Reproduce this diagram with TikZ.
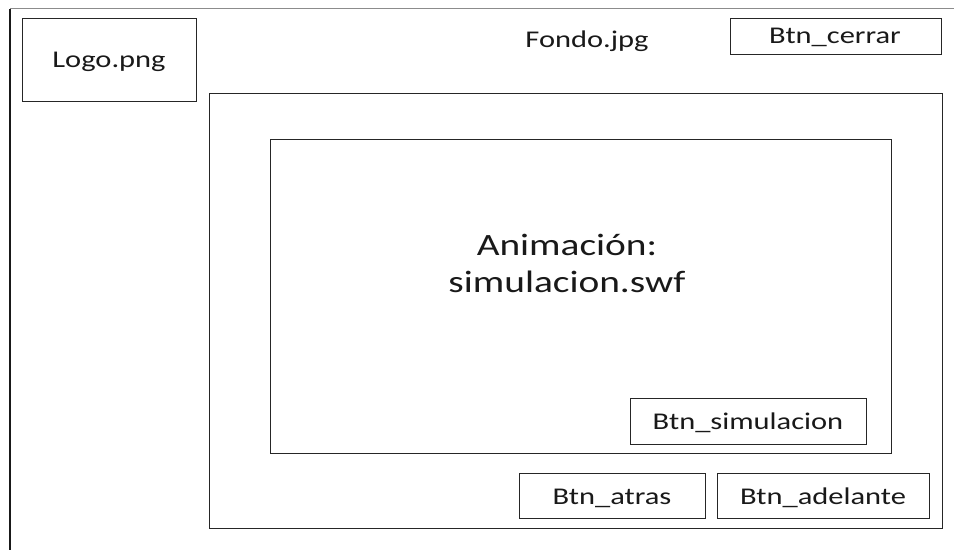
\documentclass[tikz,border=0pt]{standalone}
\usepackage{fontspec}
\setmainfont{Carlito}[FakeStretch=1.27]
\tikzset{
  box/.style={draw=black!85, line width=1.4bp, rectangle, inner sep=0pt, anchor=north west},
  lbl/.style={anchor=base, inner sep=0pt, text=black!90, font=\fontsize{24bp}{28bp}\selectfont},
  big/.style={anchor=base, inner sep=0pt, text=black!90, font=\fontsize{31bp}{37bp}\selectfont}
}
\begin{document}
\begin{tikzpicture}[x=1bp,y=-1bp]
\useasboundingbox (0,0) rectangle (954,550);
% page edges
\coordinate (tl) at (10,9);
\coordinate (tr) at (954,9);
\coordinate (bl) at (10,550);
\draw[black!45, line width=1bp] (tl) -- (tr);
\draw[black!90, line width=2bp] (tl) -- (bl);
% boxes
\node[box, minimum width=174bp, minimum height=83bp] (logo) at (22,18) {};
\node[box, minimum width=211bp, minimum height=36bp] (cerrar) at (730,18) {};
\node[box, minimum width=733bp, minimum height=435bp] (frame) at (209,93) {};
\node[box, minimum width=621bp, minimum height=314bp] (anim) at (270,139) {};
\node[box, minimum width=236bp, minimum height=46bp] (sim) at (630,398) {};
\node[box, minimum width=186bp, minimum height=45bp] (atras) at (519,473) {};
\node[box, minimum width=212bp, minimum height=45bp] (adel) at (717,473) {};
% labels
\node[lbl] (tlogo) at (109,68) {Logo.png};
\node[lbl] (tfondo) at (587,48) {Fondo.jpg};
\node[lbl] (tcerrar) at (835,44) {Btn\_cerrar};
\node[big] (tanim1) at (567,256) {Animación:};
\node[big] (tanim2) at (567,293) {simulacion.swf};
\node[lbl] (tsim) at (748,429) {Btn\_simulacion};
\node[lbl] (tatras) at (612,504) {Btn\_atras};
\node[lbl] (tadel) at (823,504) {Btn\_adelante};
\end{tikzpicture}
\end{document}
